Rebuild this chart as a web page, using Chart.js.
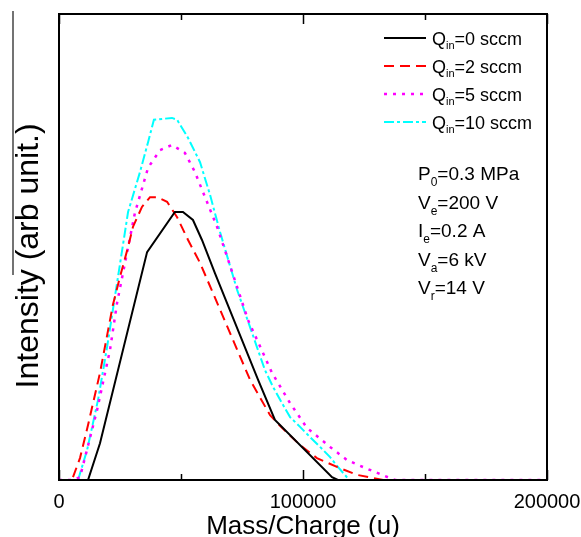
<!DOCTYPE html>
<html>
<head>
<meta charset="utf-8">
<script src="https://cdn.jsdelivr.net/npm/chart.js@4/dist/chart.umd.min.js"></script>
<style>
  html, body { margin: 0; padding: 0; background: #fff; }
  #wrap { width: 581px; height: 537px; }
</style>
</head>
<body>
<div id="wrap"><canvas id="massChart" width="581" height="537"></canvas></div>
<script>
// mass spectra for different inlet flow rates
const q0Mass = [0, 11900, 16800, 36100, 47500, 50800, 54900, 58600, 63900, 81600, 88500, 111900, 114300, 200000];
const q0Int  = [0, 0, 0.079, 0.489, 0.575, 0.575, 0.558, 0.515, 0.444, 0.215, 0.129, 0.006, 0, 0];

const q2Mass = [0, 5300, 8600, 11900, 16800, 22100, 25000, 28300, 30300, 34000, 37300, 40200, 44300, 48400,
                52900, 57800, 78300, 86500, 91400, 98800, 105700, 113900, 122100, 132800, 200000];
const q2Int  = [0, 0, 0.047, 0.118, 0.230, 0.376, 0.436, 0.500, 0.543, 0.586, 0.607, 0.607, 0.597, 0.564,
                0.515, 0.466, 0.215, 0.139, 0.112, 0.075, 0.047, 0.028, 0.011, 0, 0];

const q5Mass = [0, 5300, 8600, 15600, 20900, 23800, 31100, 36500, 41400, 46300, 51600, 55700, 59000, 64800,
                68900, 77500, 87300, 94700, 101600, 111100, 118000, 125400, 135700, 137700, 200000];
const q5Int  = [0, 0, 0.006, 0.150, 0.279, 0.380, 0.573, 0.670, 0.708, 0.719, 0.702, 0.661, 0.618, 0.543,
                0.479, 0.343, 0.230, 0.165, 0.112, 0.071, 0.043, 0.026, 0.004, 0, 0];

const q10Mass = [0, 7800, 11500, 16000, 19700, 23800, 28300, 33200, 36500, 38900, 46300, 48400, 52900, 57800,
                 61900, 66000, 73000, 84400, 87700, 91400, 94700, 98800, 102900, 107000, 111100, 114300, 118000, 119300, 200000];
const q10Int  = [0, 0, 0.064, 0.172, 0.285, 0.423, 0.575, 0.661, 0.725, 0.773, 0.777, 0.773, 0.734, 0.682,
                 0.612, 0.532, 0.408, 0.236, 0.200, 0.165, 0.135, 0.114, 0.092, 0.071, 0.049, 0.028, 0.006, 0, 0];

const seriesLabels = ['Q_{in}=0 sccm', 'Q_{in}=2 sccm', 'Q_{in}=5 sccm', 'Q_{in}=10 sccm'];
const conditionNotes = ['P_{0}=0.3 MPa', 'V_{e}=200 V', 'I_{e}=0.2 A', 'V_{a}=6 kV', 'V_{r}=14 V'];
const xTicks = [0, 100000, 200000];

const FONT = '"Liberation Sans", Arial, sans-serif';

function toPoints(xs, ys) {
    return xs.map((x, i) => ({ x: x, y: ys[i] }));
}

// text with _{sub} parts drawn as subscripts
function drawRich(ctx, str, x, y, size, subSize, subDrop) {
    const parts = str.split(/_\{([^}]*)\}/);
    let cx = x;
    parts.forEach((p, i) => {
        if (!p) return;
        const isSub = i % 2 === 1;
        ctx.font = (isSub ? subSize : size) + 'px ' + FONT;
        ctx.fillText(p, cx, isSub ? y + subDrop : y);
        cx += ctx.measureText(p).width;
    });
}

const frameAndTicks = {
    id: 'frameAndTicks',
    afterDraw(chart) {
        const { ctx, chartArea: a } = chart;
        const xs = chart.scales.x;
        ctx.save();
        ctx.strokeStyle = '#000';
        ctx.lineWidth = 2;
        ctx.strokeRect(a.left, a.top, a.right - a.left, a.bottom - a.top);
        ctx.lineWidth = 1.5;
        xs.ticks.forEach(t => {
            const px = Math.round(xs.getPixelForValue(t.value)) + 0.5;
            const len = xTicks.includes(t.value) ? 10 : 6;
            ctx.beginPath();
            ctx.moveTo(px, a.bottom);
            ctx.lineTo(px, a.bottom - len);
            ctx.moveTo(px, a.top);
            ctx.lineTo(px, a.top + len);
            ctx.stroke();
        });
        // stray rule beside the y title
        ctx.strokeStyle = '#444';
        ctx.lineWidth = 1.5;
        ctx.beginPath();
        ctx.moveTo(13, a.top - 3);
        ctx.lineTo(13, 275);
        ctx.stroke();
        ctx.restore();
    }
};

const richLegend = {
    id: 'richLegend',
    afterDraw(chart) {
        const { ctx, chartArea: a } = chart;
        ctx.save();
        ctx.fillStyle = '#000';
        ctx.textBaseline = 'alphabetic';
        chart.data.datasets.forEach((ds, i) => {
            const y = a.top + 24 + i * 28;
            ctx.strokeStyle = ds.borderColor;
            ctx.lineWidth = ds.borderWidth;
            ctx.setLineDash(ds.borderDash || []);
            ctx.beginPath();
            ctx.moveTo(a.right - 163, y);
            ctx.lineTo(a.right - 121, y);
            ctx.stroke();
            ctx.setLineDash([]);
            drawRich(ctx, ds.label, a.right - 115, y + 7, 18, 11, 4);
        });
        conditionNotes.forEach((note, i) => {
            drawRich(ctx, note, a.right - 129, a.top + 166 + i * 28.6, 19, 12, 6);
        });
        ctx.restore();
    }
};

const ctx = document.getElementById('massChart').getContext('2d');
new Chart(ctx, {
    type: 'line',
    data: {
        datasets: [
            { label: seriesLabels[0], data: toPoints(q0Mass, q0Int), borderColor: '#000000', borderWidth: 2, borderDash: [] },
            { label: seriesLabels[1], data: toPoints(q2Mass, q2Int), borderColor: '#ff0000', borderWidth: 2, borderDash: [10, 6] },
            { label: seriesLabels[2], data: toPoints(q5Mass, q5Int), borderColor: '#ff00ff', borderWidth: 2.5, borderDash: [3, 6] },
            { label: seriesLabels[3], data: toPoints(q10Mass, q10Int), borderColor: '#00ffff', borderWidth: 2, borderDash: [10, 3, 3, 3] }
        ]
    },
    options: {
        responsive: false,
        animation: false,
        devicePixelRatio: 1,
        parsing: false,
        elements: { point: { radius: 0 }, line: { tension: 0, fill: false } },
        layout: { padding: { top: 14, right: 34, left: 0, bottom: 0 } },
        plugins: { legend: { display: false }, tooltip: { enabled: false } },
        scales: {
            x: {
                type: 'linear',
                min: 0,
                max: 200000,
                grid: { display: false, drawTicks: false },
                border: { display: false },
                ticks: {
                    stepSize: 50000,
                    maxRotation: 0,
                    autoSkip: false,
                    padding: 10,
                    color: '#000',
                    font: { family: FONT, size: 20 },
                    callback: v => (xTicks.includes(v) ? String(v) : '')
                },
                title: {
                    display: true,
                    text: 'Mass/Charge (u)',
                    color: '#000',
                    font: { family: FONT, size: 26, lineHeight: 0.8 },
                    padding: { top: 0, bottom: 0 }
                },
                afterFit: s => {
                    s.height = 57;
                    s.paddingLeft = 0;
                    s.paddingRight = 0;
                }
            },
            y: {
                min: 0,
                max: 1,
                grid: { display: false, drawTicks: false },
                border: { display: false },
                ticks: { display: false },
                title: {
                    display: true,
                    text: 'Intensity (arb unit.)  ',
                    color: '#000',
                    font: { family: FONT, size: 32, lineHeight: 1.2 },
                    padding: { top: 10, bottom: 0 }
                },
                afterFit: s => { s.width = 59; }
            }
        }
    },
    plugins: [frameAndTicks, richLegend]
});
</script>
</body>
</html>
